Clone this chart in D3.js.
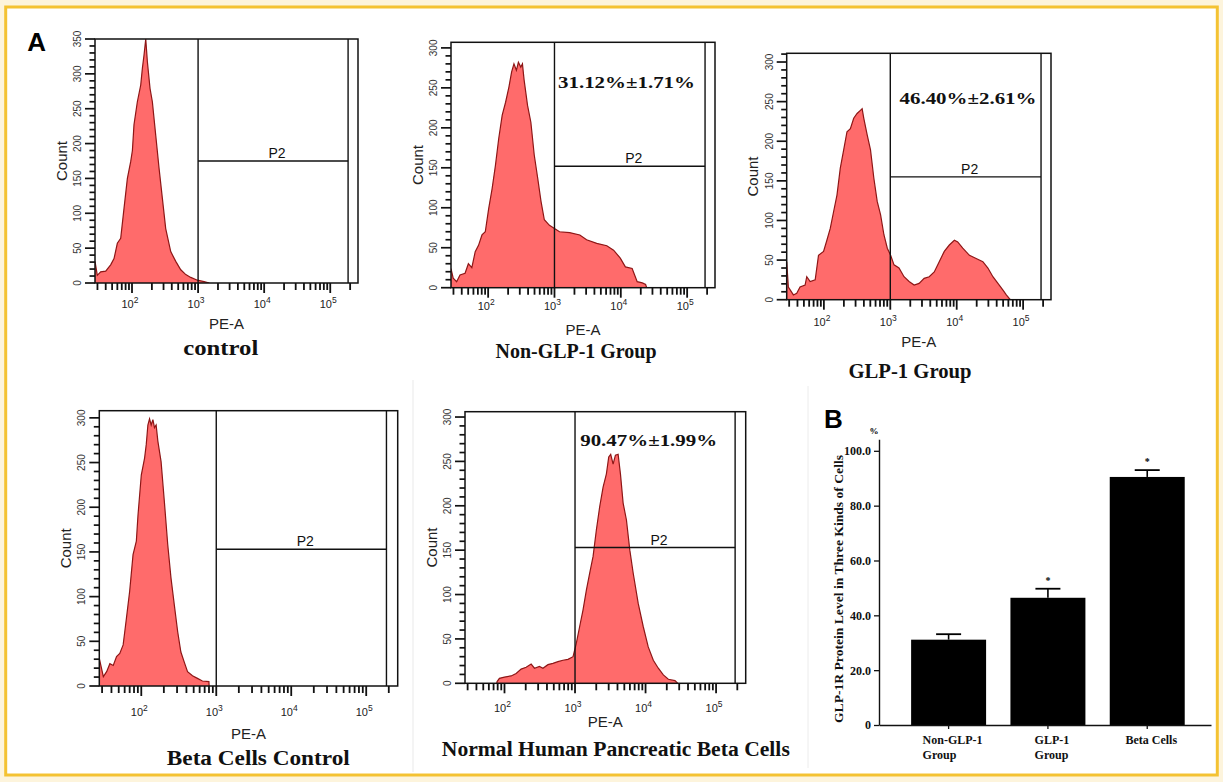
<!DOCTYPE html>
<html>
<head>
<meta charset="utf-8">
<script src="https://cdn.jsdelivr.net/npm/d3@7"></script>
<style>
body{margin:0;background:#fff}
svg{display:block}
</style>
</head>
<body>
<svg></svg>
<script>
// histogram outlines: log10(PE-A) and count
const controlLog = [1.44,1.475,1.526,1.602,1.677,1.728,1.778,1.829,1.879,1.93,1.98,2.006,2.03,2.081,2.132,2.157,2.182,2.208,2.233,2.273,2.308,2.359,2.409,2.46,2.51,2.586,2.662,2.738,2.814,2.889,2.99,3.09,3.17]
const controlCount = [31,11,16,17,26,35,57,64,107,150,174,190,227,260,284,308,327,350,317,279,260,212,165,121,78,45,31,19,12,8,4,2,0]

const nonGlpLog = [1.44,1.473,1.525,1.576,1.652,1.702,1.754,1.805,1.855,1.907,1.957,2.008,2.06,2.11,2.16,2.212,2.263,2.313,2.354,2.389,2.426,2.456,2.492,2.517,2.542,2.594,2.644,2.695,2.747,2.797,2.847,2.924,3.0,3.076,3.229,3.382,3.484,3.637,3.789,3.891,3.992,4.069,4.171,4.247,4.324,4.374,4.39]
const nonGlpCount = [24,12,7.5,16,18,30,25,45,53,66,70,99,124,153,187,216,232,251,270,280,272,282,276,280,260,228,207,166,137,108,85,78,74,70,69,66,60,55.5,52.5,47,37,26,24,7.5,6,4,0]

const glpLog = [1.44,1.465,1.541,1.591,1.641,1.717,1.742,1.793,1.869,1.919,1.995,2.045,2.096,2.146,2.197,2.247,2.298,2.348,2.399,2.449,2.5,2.55,2.576,2.601,2.652,2.702,2.753,2.803,2.854,2.904,2.955,3.005,3.056,3.131,3.207,3.283,3.359,3.434,3.51,3.586,3.662,3.737,3.813,3.889,3.965,4.015,4.091,4.192,4.293,4.394,4.47,4.545,4.621,4.697,4.747,4.798,4.82]
const glpCount = [48,16,6,8,16,18.5,29,23,25,56,61,75,90,111,132,166,189,212,216,229,235,239,241,229,208,189,153,124,107,82,65,56,44,40,29,23,18.5,20.6,27,29,35,48,61,69,75,73,65,56,52,48,40,29,20.6,12,6,1,0]

const betaCtrlLog = [1.44,1.494,1.538,1.581,1.626,1.67,1.713,1.758,1.78,1.802,1.845,1.89,1.934,1.956,2.0,2.044,2.066,2.088,2.11,2.132,2.155,2.176,2.198,2.221,2.264,2.308,2.353,2.396,2.44,2.485,2.528,2.572,2.617,2.683,2.749,2.815,2.902,2.905]
const betaCtrlCount = [31,10.4,16,25,23,33,36.5,46,61,76,106,147,162,191,236,255,270,292,299,292,298,289,292,274,251,206,158,121,91,61,38,27,16,11.5,8.5,5.6,5,0]

const betaLog = [1.89,1.895,1.928,1.999,2.094,2.165,2.236,2.307,2.378,2.425,2.496,2.545,2.616,2.687,2.758,2.829,2.9,2.972,3.018,3.066,3.113,3.161,3.208,3.256,3.303,3.35,3.398,3.445,3.478,3.506,3.54,3.573,3.611,3.644,3.682,3.729,3.777,3.825,3.896,3.967,4.038,4.11,4.181,4.252,4.323,4.417,4.455]
const betaCount = [0,2,5.6,7,8.3,11,16,18,21.7,17,19,17,21,22.5,24.4,26,27,30,45,64,82.5,105,124,143,173,199,221,236,255,258,247,257,258,236,203,184,150,124,90,64,41,26,17,9.4,4.5,3,0]

const histTitles = ["control", "Non-GLP-1 Group", "GLP-1 Group", "Beta Cells Control", "Normal Human Pancreatic Beta Cells"]
const gateText = ["", "31.12%\u00b11.71%", "46.40%\u00b12.61%", "", "90.47%\u00b11.99%"]
const gateLevel = [175, 152, 155, 153, 153]
const countMax = [350, 307, 311, 308, 306]
const peRange = [1.44, 5.42]    // log10 of the shown PE-A range
const gateRange = [3, 5.27]

// panel B
const barGroups = [["Non-GLP-1", "Group"], ["GLP-1", "Group"], ["Beta Cells"]]
const barMeans = [31.12, 46.40, 90.47]
const barErr = [2.0, 3.3, 2.5]
const barStar = ["", "*", "*"]
const barTicks = [0, 20, 40, 60, 80, 100]

const svg = d3.select("svg").attr("width", 1223).attr("height", 782)
const sans = "'Liberation Sans', Arial, sans-serif"
const serif = "'Liberation Serif', 'Times New Roman', serif"

// page frame
svg.append("rect").attr("width", 1223).attr("height", 782).attr("fill", "#fdf4dc")
svg.append("rect").attr("x", 5.7).attr("y", 7).attr("width", 1223 - 11.4).attr("height", 782 - 14)
	.attr("fill", "#fff").attr("stroke", "#f4c232").attr("stroke-width", 3)

// faint seams of the pasted panels
svg.append("line").attr("x1", 413).attr("x2", 413).attr("y1", 380).attr("y2", 772).attr("stroke", "#e9e9e9")
svg.append("line").attr("x1", 808).attr("x2", 808).attr("y1", 386).attr("y2", 768).attr("stroke", "#ececec")

// where each histogram sits
const boxes = [
	{l: 95, r: 358, t: 39, b: 283, title: [220.8, 354.5, 75], pct: null, tickDy: 21, peDy: 40},
	{l: 451, r: 715, t: 42.3, b: 287.7, title: [576, 358, 161], pct: [626.5, 87.5], tickDy: 18, peDy: 42},
	{l: 786.7, r: 1051, t: 53.3, b: 299.7, title: [910, 378, 123], pct: [968, 104], tickDy: 22, peDy: 42},
	{l: 99.3, r: 397.7, t: 410.7, b: 686, title: [258.3, 764.5, 183], pct: null, tickDy: 26, peDy: 47},
	{l: 465, r: 745.7, t: 411.7, b: 683.3, title: [615.8, 756, 348], pct: [648.7, 446], tickDy: 25, peDy: 38}
]

const hists = [
	[controlLog, controlCount],
	[nonGlpLog, nonGlpCount],
	[glpLog, glpCount],
	[betaCtrlLog, betaCtrlCount],
	[betaLog, betaCount]
]

hists.forEach(([logs, counts], i) => {
	const box = boxes[i]
	const pts = logs.map((e, j) => ({pe: Math.pow(10, e), c: counts[j]}))

	const x = d3.scaleLog()
		.domain(peRange.map(e => Math.pow(10, e)))
		.range([box.l, box.r])
	const y = d3.scaleLinear()
		.domain([0, countMax[i]])
		.range([box.b, box.t])

	const g = svg.append("g")

	g.append("clipPath").attr("id", "clip" + i)
		.append("rect").attr("x", box.l).attr("y", box.t)
		.attr("width", box.r - box.l).attr("height", box.b - box.t)

	const area = d3.area()
		.x(d => x(d.pe))
		.y0(y(0))
		.y1(d => y(d.c))
	const line = d3.line()
		.x(d => x(d.pe))
		.y(d => y(d.c))

	g.append("path").datum(pts).attr("d", area)
		.attr("clip-path", `url(#clip${i})`)
		.attr("fill", "#ff6b6b")
	g.append("path").datum(pts).attr("d", line)
		.attr("clip-path", `url(#clip${i})`)
		.attr("fill", "none").attr("stroke", "#8e1616").attr("stroke-width", 1.2)

	// gate P2
	const gx0 = x(Math.pow(10, gateRange[0]))
	const gx1 = x(Math.pow(10, gateRange[1]))
	const gy = y(gateLevel[i])
	g.append("line").attr("x1", gx0).attr("x2", gx0).attr("y1", box.t).attr("y2", box.b)
		.attr("stroke", "#111").attr("stroke-width", 1.4)
	g.append("line").attr("x1", gx1).attr("x2", gx1).attr("y1", box.t).attr("y2", box.b)
		.attr("stroke", "#111").attr("stroke-width", 1.4)
	g.append("line").attr("x1", gx0).attr("x2", gx1).attr("y1", gy).attr("y2", gy)
		.attr("stroke", "#111").attr("stroke-width", 1.4)
	g.append("text").attr("x", (gx0 + gx1) / 2 + 4).attr("y", gy - 3)
		.attr("text-anchor", "middle").attr("font-family", sans).attr("font-size", 14)
		.attr("fill", "#111").text("P2")

	// frame
	g.append("rect").attr("x", box.l).attr("y", box.t)
		.attr("width", box.r - box.l).attr("height", box.b - box.t)
		.attr("fill", "none").attr("stroke", "#111").attr("stroke-width", 1.5)

	// count ticks every 10, labels every 50
	const yTicks = d3.range(0, countMax[i] + 0.1, 10)
	g.selectAll("line.yt").data(yTicks).enter().append("line")
		.attr("class", "yt")
		.attr("x1", d => box.l - (d % 50 === 0 ? 10 : 5.5)).attr("x2", box.l)
		.attr("y1", d => y(d)).attr("y2", d => y(d))
		.attr("stroke", "#111").attr("stroke-width", 1.7)
	g.selectAll("text.yl").data(yTicks.filter(d => d % 50 === 0)).enter().append("text")
		.attr("class", "yl")
		.attr("transform", d => `translate(${box.l - 14},${y(d)}) rotate(-90)`)
		.attr("text-anchor", "middle").attr("font-family", sans).attr("font-size", 10)
		.attr("fill", "#333").text(d => d)

	// PE-A ticks from the log scale
	const xTicks = x.ticks()
	g.selectAll("line.xt").data(xTicks).enter().append("line")
		.attr("class", "xt")
		.attr("x1", d => x(d)).attr("x2", d => x(d))
		.attr("y1", box.b).attr("y2", d => box.b + (Number.isInteger(Math.log10(d)) ? 10 : 7))
		.attr("stroke", "#111").attr("stroke-width", 1.8)
	const decades = xTicks.filter(d => Number.isInteger(Math.log10(d)) && d >= 100)
	const lab = g.selectAll("text.xl").data(decades).enter().append("text")
		.attr("class", "xl")
		.attr("x", d => x(d) - 2).attr("y", box.b + box.tickDy + 4)
		.attr("text-anchor", "middle").attr("font-family", sans).attr("font-size", 11).attr("fill", "#222")
	lab.append("tspan").text("10")
	lab.append("tspan").attr("dy", -5).attr("font-size", 8.5).text(d => Math.round(Math.log10(d)))

	g.append("text").attr("x", (box.l + box.r) / 2).attr("y", box.b + box.peDy + 5.5)
		.attr("text-anchor", "middle").attr("font-family", sans).attr("font-size", 15)
		.attr("fill", "#222").text("PE-A")
	g.append("text")
		.attr("transform", `translate(${box.l - 28.5},${(box.t + box.b) / 2}) rotate(-90)`)
		.attr("text-anchor", "middle").attr("font-family", sans).attr("font-size", 15)
		.attr("fill", "#222").text("Count")

	if (box.pct) {
		g.append("text").attr("x", box.pct[0]).attr("y", box.pct[1])
			.attr("text-anchor", "middle").attr("font-family", serif).attr("font-weight", "bold")
			.attr("font-size", 17).attr("textLength", 137).attr("lengthAdjust", "spacingAndGlyphs")
			.attr("fill", "#111").text(gateText[i])
	}

	g.append("text").attr("x", box.title[0]).attr("y", box.title[1])
		.attr("text-anchor", "middle").attr("font-family", serif).attr("font-weight", "bold")
		.attr("font-size", 20).attr("textLength", box.title[2]).attr("lengthAdjust", "spacingAndGlyphs")
		.attr("fill", "#111").text(histTitles[i])
})

// panel letters
svg.append("text").attr("x", 36.7).attr("y", 51).attr("text-anchor", "middle")
	.attr("font-family", sans).attr("font-weight", "bold").attr("font-size", 26).text("A")
svg.append("text").attr("x", 833.3).attr("y", 427.5).attr("text-anchor", "middle")
	.attr("font-family", sans).attr("font-weight", "bold").attr("font-size", 26).text("B")

// ---- panel B bar chart ----
const barKeys = barGroups.map(g => g.join(" "))
const yB = d3.scaleLinear().domain([0, 104.2]).range([725, 439.3])
const xB = d3.scaleBand().domain(barKeys).range([879, 1211])
	.paddingInner(0.245).paddingOuter(0.294).align(0.55)

const gB = svg.append("g")

gB.selectAll("rect.bar").data(barMeans).enter().append("rect")
	.attr("class", "bar")
	.attr("x", (d, i) => xB(barKeys[i]))
	.attr("width", xB.bandwidth())
	.attr("y", d => yB(d))
	.attr("height", d => yB(0) - yB(d))
	.attr("fill", "#000")

const cx = i => xB(barKeys[i]) + xB.bandwidth() / 2
gB.selectAll("line.err").data(barMeans).enter().append("line")
	.attr("class", "err")
	.attr("x1", (d, i) => cx(i)).attr("x2", (d, i) => cx(i))
	.attr("y1", d => yB(d)).attr("y2", (d, i) => yB(d + barErr[i]))
	.attr("stroke", "#000").attr("stroke-width", 1.6)
gB.selectAll("line.cap").data(barMeans).enter().append("line")
	.attr("class", "cap")
	.attr("x1", (d, i) => cx(i) - 12.5).attr("x2", (d, i) => cx(i) + 12.5)
	.attr("y1", (d, i) => yB(d + barErr[i])).attr("y2", (d, i) => yB(d + barErr[i]))
	.attr("stroke", "#000").attr("stroke-width", 1.8)
gB.selectAll("text.star").data(barMeans).enter().append("text")
	.attr("class", "star")
	.attr("x", (d, i) => cx(i)).attr("y", (d, i) => yB(d + barErr[i]) - 5)
	.attr("text-anchor", "middle").attr("font-family", serif).attr("font-weight", "bold")
	.attr("font-size", 10).text((d, i) => barStar[i])

const axY = gB.append("g").attr("transform", "translate(879,0)")
	.call(d3.axisLeft(yB).tickValues(barTicks).tickSize(5).tickSizeOuter(0)
		.tickFormat(d => d === 0 ? "0" : d.toFixed(1)))
const axX = gB.append("g").attr("transform", "translate(0,725)")
	.call(d3.axisBottom(xB).tickSize(4).tickSizeOuter(0).tickFormat(""))
;[axY, axX].forEach(a => {
	a.select(".domain").attr("stroke", "#111").attr("stroke-width", 1.4)
	a.selectAll(".tick line").attr("stroke", "#111").attr("stroke-width", 1.3)
	a.selectAll("text").attr("font-family", serif).attr("font-weight", "bold")
		.attr("font-size", 12).attr("fill", "#111")
})

barGroups.forEach((lines, i) => {
	const t = gB.append("g")
	const texts = lines.map((s, j) => t.append("text").attr("y", 744 + j * 15)
		.attr("font-family", serif).attr("font-weight", "bold").attr("font-size", 12)
		.attr("fill", "#111").text(s))
	const w = d3.max(texts, s => s.node().getComputedTextLength())
	texts.forEach(s => s.attr("x", cx(i) + 4 - w / 2))
})

gB.append("text").attr("x", 874).attr("y", 434).attr("text-anchor", "middle")
	.attr("font-family", serif).attr("font-weight", "bold").attr("font-size", 9).text("%")
gB.append("text").attr("transform", "translate(842.5,589) rotate(-90)")
	.attr("text-anchor", "middle").attr("font-family", serif).attr("font-weight", "bold")
	.attr("font-size", 12.5).attr("textLength", 268).attr("lengthAdjust", "spacingAndGlyphs")
	.attr("fill", "#111").text("GLP-1R Protein Level in Three Kinds of Cells")
</script>
</body>
</html>
